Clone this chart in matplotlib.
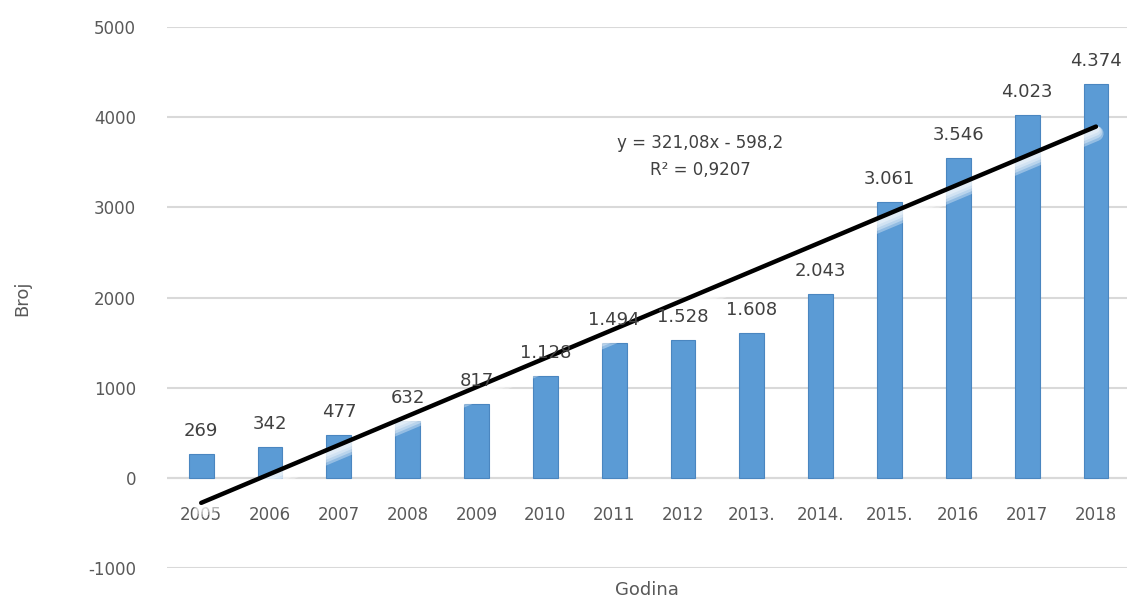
import numpy as np
import matplotlib
matplotlib.use("Agg")
import matplotlib.pyplot as plt
import matplotlib.patheffects as pe

# data
years = ["2005", "2006", "2007", "2008", "2009", "2010", "2011",
         "2012", "2013.", "2014.", "2015.", "2016", "2017", "2018"]
counts = [269, 342, 477, 632, 817, 1128, 1494, 1528, 1608, 2043, 3061, 3546, 4023, 4374]
slope = 321.08
intercept = -598.2
r2_text = "0,9207"
y_ticks = [-1000, 0, 1000, 2000, 3000, 4000, 5000]

BAR = "#5b9bd5"
GRID = "#d9d9d9"
TXT = "#404040"
TICK = "#595959"

fig = plt.figure(figsize=(11.27, 6.03), dpi=100)
ax = fig.add_axes([0.148, 0.058, 0.855, 0.897])

x = np.arange(1, len(counts) + 1)
ax.bar(x, counts, width=0.36, color=BAR, edgecolor="#4a86c0", linewidth=0.8, zorder=2)

# data labels, dot as thousands separator
for xi, v in zip(x, counts):
    ax.annotate(f"{v:,}".replace(",", "."), (xi, v), xytext=(0, 10),
                textcoords="offset points", ha="center", va="bottom",
                fontsize=13, color=TXT, zorder=4)

# linear trend line with a soft white glow underneath
tx = np.array([x[0], x[-1]])
ty = slope * tx + intercept
glow = [pe.SimpleLineShadow(offset=(0, -2 - i), shadow_color="white",
                            alpha=0.35, linewidth=5 + 2 * i) for i in range(4)]
ax.plot(tx, ty, color="black", linewidth=3.2, solid_capstyle="round", zorder=3,
        path_effects=glow + [pe.Normal()])

ax.text(8.25, 3720, "y = 321,08x - 598,2", ha="center", va="center",
        fontsize=12, color=TXT, zorder=4)
ax.text(8.25, 3420, f"R² = {r2_text}", ha="center", va="center",
        fontsize=12, color=TXT, zorder=4)

ax.set_xlim(0.5, len(counts) + 0.5)
ax.set_ylim(-1000, 5000)
ax.set_yticks(y_ticks)
ax.set_yticklabels([str(t) for t in y_ticks])
ax.set_xticks(x)
ax.set_xticklabels(years)
ax.grid(axis="y", color=GRID, linewidth=1.5, zorder=0)
ax.axhline(0, color=GRID, linewidth=1.5, zorder=1)
ax.set_axisbelow(True)

for s in ax.spines.values():
    s.set_visible(False)
ax.spines["bottom"].set_position(("data", 0))
ax.tick_params(axis="x", length=0, pad=20, labelsize=12, labelcolor=TICK)
ax.tick_params(axis="y", length=0, pad=22, labelsize=12, labelcolor=TICK)

fig.text(0.574, 0.022, "Godina", ha="center", va="center", fontsize=13, color=TICK)
fig.text(0.02, 0.505, "Broj", ha="center", va="center", rotation=90,
         fontsize=13, color=TICK)

fig.savefig("out.png", dpi=100)
